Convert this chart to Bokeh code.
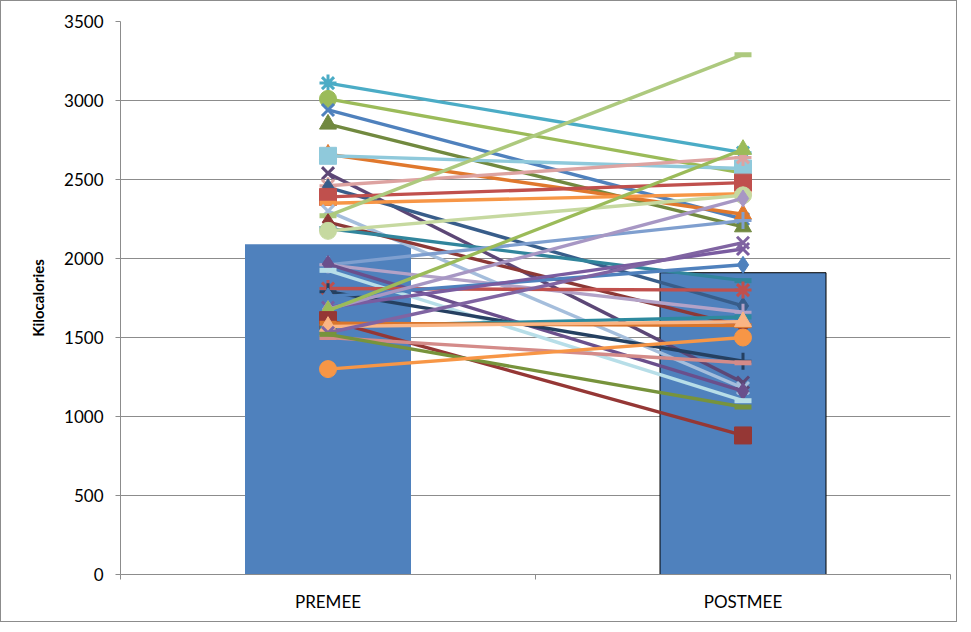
from bokeh.plotting import figure
from bokeh.models import FixedTicker, Range1d
from bokeh.embed import file_html
from bokeh.resources import INLINE

# ---- data ----
categories = ["PREMEE", "POSTMEE"]
mean_values = [2090, 1910]

pre_values = [3110, 3010, 2940, 2850, 2660, 2650, 2540, 2460, 2450, 2390, 2350, 2300,
              2270, 2230, 2190, 2175, 1960, 1960, 1965, 1925, 1810, 1790, 1760, 1690,
              1680, 1670, 1610, 1570, 1590, 1570, 1530, 1500, 1520, 1300]
post_values = [2670, 2540, 2250, 2200, 2280, 2570, 1215, 2640, 1700, 2480, 2410, 1180,
               3290, 1570, 1860, 2400, 2240, 1660, 1160, 1100, 1800, 1350, 1960, 2060,
               2380, 2690, 880, 1630, 1575, 1600, 2100, 1340, 1060, 1500]

y_ticks = [0, 500, 1000, 1500, 2000, 2500, 3000, 3500]

# ---- styles ----
series_colors = ["#4BACC6", "#9BBB59", "#4F81BD", "#71893F", "#E0782D", "#8FC9DB",
                 "#5C4776", "#DDA3A1", "#385D8A", "#C0504D", "#F79646", "#A5BEDC",
                 "#ADC97E", "#8C3836", "#31859C", "#C6D9A0", "#7F9FCF", "#B3A2C7",
                 "#6A4F8C", "#B7DEE8", "#C0504D", "#254061", "#4F81BD", "#7A5CA0",
                 "#A797C4", "#9BBB59", "#953735", "#2E8A9E", "#D9752C", "#FAB584",
                 "#8064A2", "#D48B89", "#77933C", "#F79646"]
series_markers = ["asterisk", "circle", "x", "triangle", "triangle", "square",
                  "x", "asterisk", "diamond", "square", "dash", "x",
                  "dash", "diamond", "dash", "circle", "cross", "cross",
                  "diamond", "dash", "asterisk", "cross", "diamond", "x",
                  "diamond", "triangle", "square", "dash", "dash", "triangle",
                  "x", "dash", "dash", "circle"]

FONT = "Lato"
GRID = "#8c8c8c"

xs = [i + 0.5 for i in range(len(categories))]

p = figure(width=957, height=622, output_backend="svg", toolbar_location=None,
           x_range=Range1d(0, len(categories)), y_range=Range1d(0, 3500),
           min_border_left=119, min_border_right=8, min_border_top=20,
           min_border_bottom=49)
p.styles = {"border": "1px solid #8c8c8c"}
p.outline_line_color = None
p.background_fill_color = "white"
p.border_fill_color = "white"

# bars
p.vbar(x=[xs[0]], top=[mean_values[0]], width=0.4, fill_color="#4F81BD", line_color=None)
p.vbar(x=[xs[1]], top=[mean_values[1]], width=0.4, fill_color="#4F81BD",
       line_color="black", line_width=1)

# individual series
for pre, post, c, m in zip(pre_values, post_values, series_colors, series_markers):
    p.line(x=xs, y=[pre, post], line_color=c, line_width=3.4)
    lw = 3 if m in ("x", "asterisk", "cross") else (5 if m == "dash" else 1)
    p.scatter(x=xs, y=[pre, post], marker=m, size=17, fill_color=c, line_color=c,
              line_width=lw)

# y axis
p.yaxis.ticker = FixedTicker(ticks=y_ticks)
p.yaxis.axis_label = "Kilocalories"
p.yaxis.axis_label_text_font = FONT
p.yaxis.axis_label_text_font_style = "bold"
p.yaxis.axis_label_text_font_size = "15px"
p.yaxis.axis_label_text_color = "black"
p.yaxis.axis_label_standoff = 14
p.yaxis.major_label_text_font = FONT
p.yaxis.major_label_text_font_size = "17px"
p.yaxis.major_label_text_color = "black"
p.yaxis.major_label_standoff = 12
p.yaxis.axis_line_color = GRID
p.yaxis.major_tick_line_color = GRID
p.yaxis.major_tick_out = 5
p.yaxis.major_tick_in = 0
p.yaxis.minor_tick_line_color = None

# x axis
p.xaxis.ticker = FixedTicker(ticks=xs, minor_ticks=[0, 1, 2])
p.xaxis.major_label_overrides = {x: c for x, c in zip(xs, categories)}
p.xaxis.major_label_text_font = FONT
p.xaxis.major_label_text_font_size = "17px"
p.xaxis.major_label_text_color = "black"
p.xaxis.major_label_standoff = 10
p.xaxis.axis_line_color = GRID
p.xaxis.major_tick_line_color = None
p.xaxis.minor_tick_line_color = GRID
p.xaxis.minor_tick_out = 5
p.xaxis.minor_tick_in = 0

p.xgrid.grid_line_color = None
p.ygrid.grid_line_color = GRID
p.ygrid.grid_line_width = 1

open("out.html", "w").write(file_html(p, INLINE))
